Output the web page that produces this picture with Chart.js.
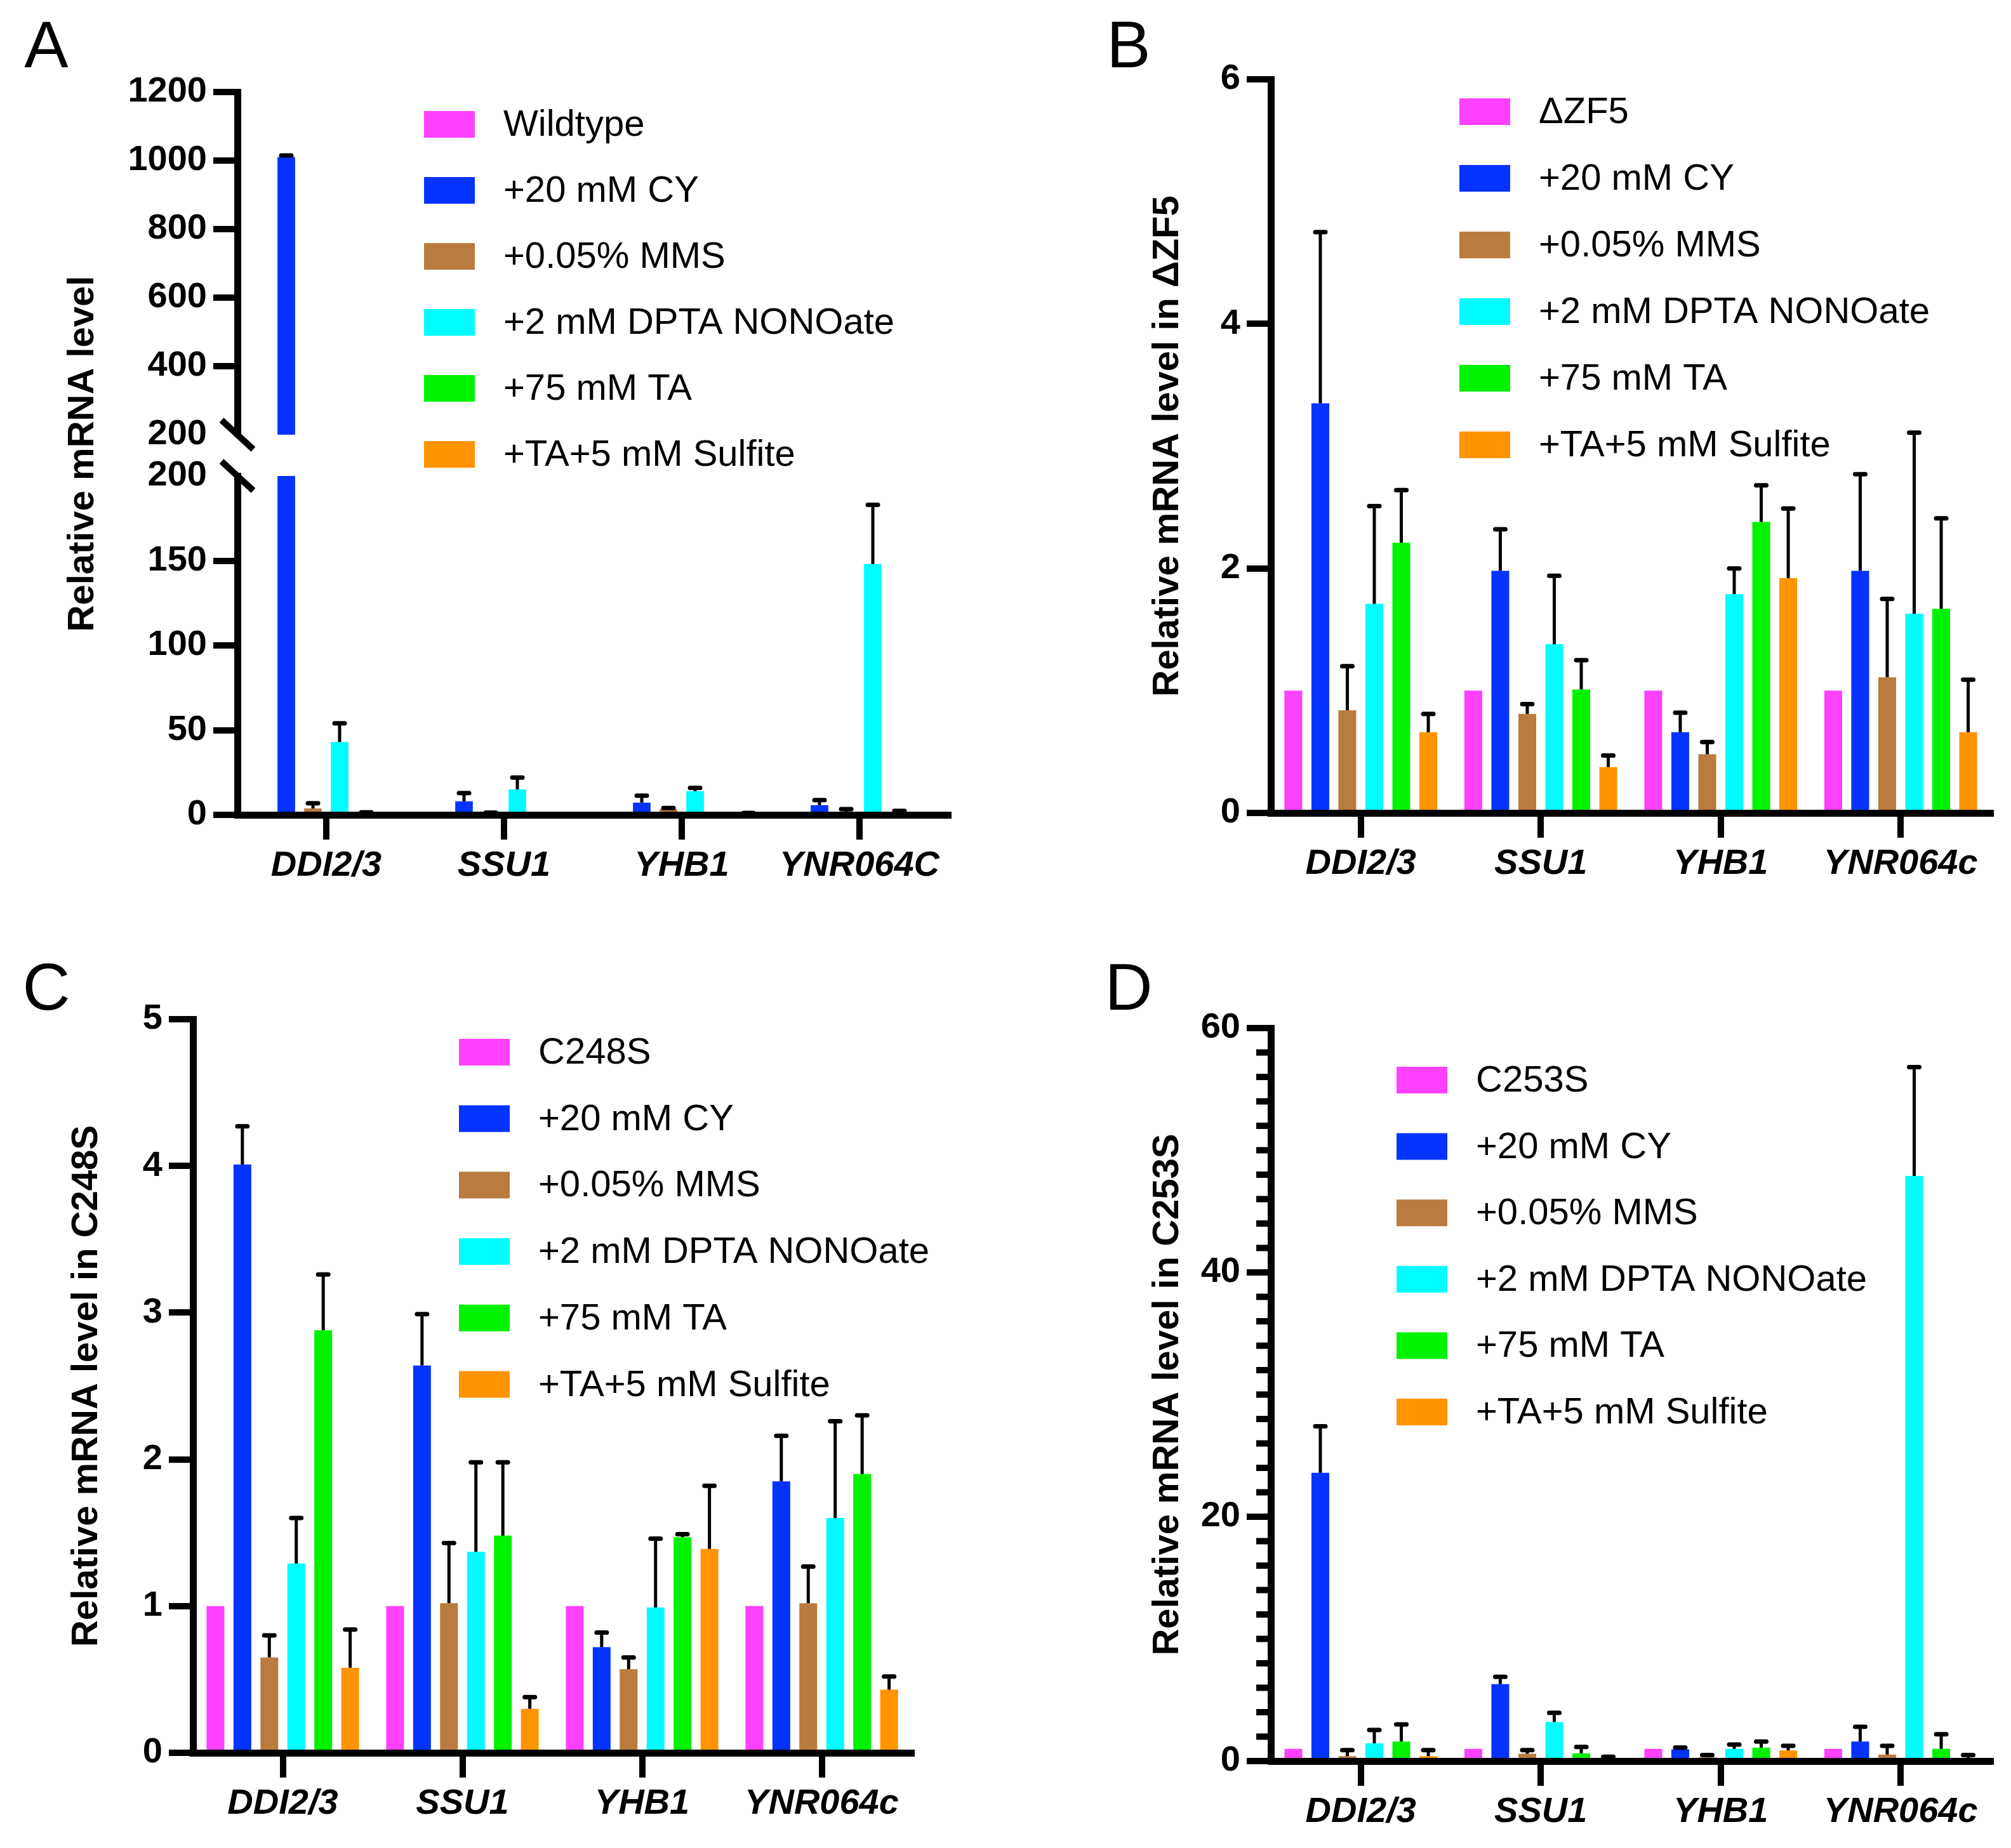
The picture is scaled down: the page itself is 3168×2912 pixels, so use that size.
<!DOCTYPE html>
<html>
<head>
<meta charset="utf-8">
<script src="https://cdn.jsdelivr.net/npm/chart.js@4.4.1/dist/chart.umd.min.js"></script>
<style>
  html, body { margin: 0; padding: 0; background: #fff; }
  #page { position: relative; width: 3168px; height: 2912px; background: #fff; overflow: hidden; }
  #page canvas { position: absolute; }
</style>
</head>
<body>
<div id="page">
  <canvas id="cA_lo" width="1584" height="1456" style="left:0;top:0"></canvas>
  <canvas id="cA_hi" width="1584" height="1456" style="left:0;top:0"></canvas>
  <canvas id="cB" width="1584" height="1456" style="left:1584px;top:0"></canvas>
  <canvas id="cC" width="1584" height="1456" style="left:0;top:1456px"></canvas>
  <canvas id="cD" width="1584" height="1456" style="left:1584px;top:1456px"></canvas>
</div>
<script>
// ---- data ----
const genesA = ['DDI2/3', 'SSU1', 'YHB1', 'YNR064C'];
const genesBCD = ['DDI2/3', 'SSU1', 'YHB1', 'YNR064c'];
const treatments = ['+20 mM CY', '+0.05% MMS', '+2 mM DPTA NONOate', '+75 mM TA', '+TA+5 mM Sulfite'];

// rows: strain, CY, MMS, DPTA, TA, TA+Sulfite ; columns follow the gene order
const meanA = [
  [1, 1, 1, 1],
  [1010, 8, 7.2, 5.7],
  [3.8, 0.8, 3.4, 1.5],
  [43, 15, 14, 148],
  [0.8, 0.3, 0.3, 1.2],
  [0.5, 0.3, 0.8, 0.3]
];
const errA = [
  [0, 0, 0, 0],
  [5, 4.8, 4.1, 3],
  [3, 0.5, 0.6, 1.9],
  [11, 7, 1.9, 35],
  [0.7, 0, 0, 1.1],
  [0, 0, 0.3, 0]
];

const meanB = [
  [1, 1, 1, 1],
  [3.35, 1.98, 0.66, 1.98],
  [0.84, 0.81, 0.48, 1.11],
  [1.71, 1.38, 1.79, 1.63],
  [2.21, 1.01, 2.38, 1.67],
  [0.66, 0.375, 1.92, 0.66]
];
const errB = [
  [0, 0, 0, 0],
  [1.40, 0.34, 0.16, 0.79],
  [0.36, 0.08, 0.10, 0.64],
  [0.80, 0.56, 0.21, 1.48],
  [0.43, 0.24, 0.30, 0.74],
  [0.15, 0.095, 0.57, 0.43]
];

const meanC = [
  [1, 1, 1, 1],
  [4.01, 2.64, 0.72, 1.85],
  [0.65, 1.02, 0.57, 1.02],
  [1.29, 1.37, 0.99, 1.60],
  [2.88, 1.48, 1.47, 1.90],
  [0.58, 0.30, 1.39, 0.43]
];
const errC = [
  [0, 0, 0, 0],
  [0.26, 0.35, 0.10, 0.31],
  [0.15, 0.41, 0.08, 0.25],
  [0.31, 0.61, 0.47, 0.66],
  [0.38, 0.50, 0.02, 0.40],
  [0.26, 0.08, 0.43, 0.09]
];

const meanD = [
  [1, 1, 1, 1],
  [23.6, 6.3, 0.96, 1.6],
  [0.4, 0.6, 0.3, 0.53],
  [1.45, 3.2, 1.0, 47.9],
  [1.6, 0.63, 1.1, 1.0],
  [0.4, 0.25, 0.87, 0.24]
];
const errD = [
  [0, 0, 0, 0],
  [3.8, 0.6, 0.14, 1.2],
  [0.5, 0.3, 0.2, 0.72],
  [1.1, 0.75, 0.35, 8.9],
  [1.4, 0.52, 0.5, 1.2],
  [0.5, 0.1, 0.38, 0.26]
];

const yTicksAhi = [200, 400, 600, 800, 1000, 1200];
const yTicksAlo = [0, 50, 100, 150, 200];
const yTicksB = [0, 2, 4, 6];
const yTicksC = [0, 1, 2, 3, 4, 5];
const yTicksD = [0, 20, 40, 60];

// ---- styling ----
const FONT = "'Liberation Sans', Arial, Helvetica, sans-serif";
const colors = ['#FF40FF', '#0433FF', '#BA7B3F', '#00FDFF', '#00F200', '#FF9300'];
Chart.defaults.font.family = FONT;
Chart.defaults.color = '#000';

function buildSets(strain, mean, err) {
  const names = [strain].concat(treatments);
  return names.map((name, i) => ({
    label: name,
    data: mean[i],
    err: err[i],
    backgroundColor: colors[i],
    borderWidth: 0,
    categoryPercentage: 0.9,
    barPercentage: 0.66,
    clip: 0
  }));
}

// error bars: mean -> mean + SD, drawn with the y scale
const errorBars = {
  id: 'errorBars',
  afterDatasetsDraw(chart) {
    const { ctx, chartArea: a } = chart;
    const y = chart.scales.y;
    ctx.save();
    ctx.beginPath();
    ctx.rect(a.left, a.top - 6, a.right - a.left, a.bottom - a.top + 6);
    ctx.clip();
    ctx.strokeStyle = '#000';
    chart.data.datasets.forEach((ds, i) => {
      chart.getDatasetMeta(i).data.forEach((bar, j) => {
        const e = ds.err[j];
        if (!e) return;
        const base = y.getPixelForValue(ds.data[j]);
        const top = y.getPixelForValue(ds.data[j] + e);
        ctx.lineWidth = 5;
        ctx.lineCap = 'butt';
        ctx.beginPath();
        ctx.moveTo(bar.x, base);
        ctx.lineTo(bar.x, top);
        ctx.stroke();
        ctx.lineWidth = 7;
        ctx.lineCap = 'round';
        ctx.beginPath();
        ctx.moveTo(bar.x - 8, top);
        ctx.lineTo(bar.x + 8, top);
        ctx.stroke();
      });
    });
    ctx.restore();
  }
};

// panel letter, legend, axis break, minor ticks, corner
const decor = {
  id: 'decor',
  afterDraw(chart, args, o) {
    const { ctx, chartArea: a } = chart;
    ctx.save();
    ctx.fillStyle = '#000';
    if (o.letter) {
      ctx.font = '400 104px ' + FONT;
      ctx.textAlign = 'center';
      ctx.textBaseline = 'middle';
      ctx.fillText(o.letter[0], o.letter[1], o.letter[2]);
    }
    if (o.ytitle) {
      ctx.save();
      ctx.translate(o.ytitle[1], o.ytitle[2]);
      ctx.rotate(-Math.PI / 2);
      ctx.font = 'bold 58px ' + FONT;
      ctx.textAlign = 'center';
      ctx.textBaseline = 'middle';
      ctx.fillText(o.ytitle[0], 0, 0);
      ctx.restore();
    }
    if (o.legend) {
      const L = o.legend;
      chart.data.datasets.forEach((ds, i) => {
        const cy = L.y + i * L.dy;
        ctx.fillStyle = ds.backgroundColor;
        ctx.fillRect(L.x, cy - 21, 80, 42);
        ctx.fillStyle = '#000';
        ctx.font = '58px ' + FONT;
        ctx.textAlign = 'left';
        ctx.textBaseline = 'middle';
        ctx.fillText(ds.label, L.x + 125, cy + 2);
      });
    }
    if (o.breakMark) {
      const by = o.breakMark === 'bottom' ? a.bottom : a.top;
      ctx.strokeStyle = '#000';
      ctx.lineWidth = 10;
      ctx.beginPath();
      ctx.moveTo(a.left - 25, by - 23);
      ctx.lineTo(a.left + 25, by + 23);
      ctx.stroke();
    }
    if (o.minorStep) {
      const y = chart.scales.y;
      const ticks = y.ticks.map(t => t.value);
      for (let k = 0; k < ticks.length - 1; k++) {
        for (let v = ticks[k] + o.minorStep; v < ticks[k + 1] - 1e-9; v += o.minorStep) {
          const py = y.getPixelForValue(v);
          ctx.fillRect(a.left - 23, py - 5, 23, 10);
        }
      }
    }
    if (o.corner) {
      ctx.fillRect(a.left - 5.5, a.bottom - 5.5, 11, 11);
    }
    ctx.restore();
  }
};

function makeChart(id, p) {
  const fixedY = p.yTicks;
  return new Chart(document.getElementById(id), {
    type: 'bar',
    data: { labels: p.labels, datasets: buildSets(p.strain, p.mean, p.err) },
    options: {
      responsive: false,
      animation: false,
      devicePixelRatio: 1,
      layout: { padding: p.pad },
      plugins: {
        legend: { display: false },
        tooltip: { enabled: false },
        decor: p.decor
      },
      scales: {
        x: {
          display: p.showX,
          grid: { offset: false, drawOnChartArea: false, drawTicks: true, tickLength: 39, lineWidth: 10, color: '#000' },
          border: { display: true, width: 11, color: '#000', z: 1 },
          ticks: { font: { size: 56, weight: 'bold', style: 'italic' }, color: '#000', padding: 8, maxRotation: 0, autoSkip: false },
          afterFit: s => { s.height = p.xHeight; }
        },
        y: {
          min: fixedY[0],
          max: fixedY[fixedY.length - 1],
          afterBuildTicks: s => { s.ticks = fixedY.map(v => ({ value: v })); },
          grid: {
            drawOnChartArea: false, drawTicks: true, tickLength: 38, color: '#000',
            lineWidth: c => (p.hideTick !== undefined && c.tick && c.tick.value === p.hideTick) ? 0 : 10
          },
          border: { display: true, width: 11, color: '#000', z: 1 },
          ticks: { font: { size: 56, weight: 'bold' }, color: '#000', padding: 10, autoSkip: false, callback: v => String(v) },
          title: p.ytitle ? { display: true, text: p.ytitle, font: { size: 58, weight: 'bold', lineHeight: 1.2 }, color: '#000', padding: { top: 0, bottom: 0 } } : { display: false },
          afterFit: s => { s.width = p.yWidth; }
        }
      }
    },
    plugins: [errorBars, decor]
  });
}

// Panel A: broken axis = two charts on one spot
makeChart('cA_lo', {
  labels: genesA, strain: 'Wildtype', mean: meanA, err: errA, yTicks: yTicksAlo, hideTick: 200,
  pad: { left: 96, top: 750, right: 90, bottom: 0 }, yWidth: 278, xHeight: 172, showX: true,
  decor: { breakMark: 'top', corner: true }
});
makeChart('cA_hi', {
  labels: genesA, strain: 'Wildtype', mean: meanA, err: errA, yTicks: yTicksAhi, hideTick: 200,
  pad: { left: 96, top: 145, right: 90, bottom: 771 }, yWidth: 278, xHeight: 0, showX: false,
  decor: { letter: ['A', 73, 77], ytitle: ['Relative mRNA level', 131, 715], legend: { x: 668, y: 196, dy: 104 }, breakMark: 'bottom' }
});

makeChart('cB', {
  labels: genesBCD, strain: 'ΔZF5', mean: meanB, err: errB, yTicks: yTicksB,
  ytitle: 'Relative mRNA level in ΔZF5',
  pad: { left: 221, top: 125, right: 32, bottom: 0 }, yWidth: 197, xHeight: 175, showX: true,
  decor: { letter: ['B', 194, 77], legend: { x: 715, y: 176, dy: 105 }, corner: true }
});

makeChart('cC', {
  labels: genesBCD, strain: 'C248S', mean: meanC, err: errC, yTicks: yTicksC,
  ytitle: 'Relative mRNA level in C248S',
  pad: { left: 102, top: 150, right: 148, bottom: 0 }, yWidth: 202, xHeight: 150, showX: true,
  decor: { letter: ['C', 73, 106], legend: { x: 723, y: 202, dy: 104.7 }, corner: true }
});

makeChart('cD', {
  labels: genesBCD, strain: 'C253S', mean: meanD, err: errD, yTicks: yTicksD,
  ytitle: 'Relative mRNA level in C253S',
  pad: { left: 221, top: 164, right: 32, bottom: 0 }, yWidth: 197, xHeight: 137, showX: true,
  decor: { letter: ['D', 194, 106], legend: { x: 616, y: 246, dy: 104.6 }, minorStep: 2, corner: true }
});
</script>
</body>
</html>
